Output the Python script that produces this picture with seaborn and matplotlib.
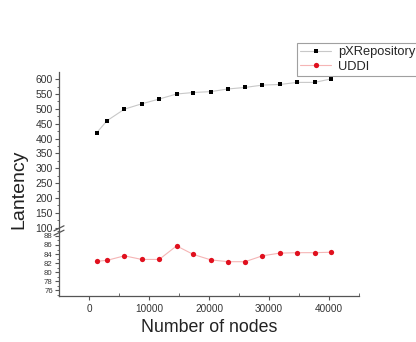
import matplotlib
matplotlib.use("Agg")
import matplotlib.pyplot as plt
import seaborn as sns
import numpy as np
from matplotlib.ticker import MultipleLocator

sns.set_style("white")
plt.rcParams['font.family'] = ['Arial', 'Liberation Sans', 'DejaVu Sans']

nodes = [1300, 3000, 5900, 8800, 11700, 14600, 17400, 20300, 23200, 26000,
         28900, 31800, 34700, 37600, 40400]
px_repository = [420, 460, 499, 517, 533, 550, 555, 558, 567, 572, 580, 582, 589, 589, 601]
uddi = [82.4, 82.6, 83.6, 82.8, 82.8, 85.8, 83.9, 82.7, 82.3, 82.3, 83.6, 84.2, 84.3, 84.3, 84.4]
x_ticks = [0, 10000, 20000, 30000, 40000]
upper_ticks = list(range(100, 601, 50))
lower_ticks = [76, 78, 80, 82, 84, 86, 88]

W, H = 416, 342
fig = plt.figure(figsize=(W / 100, H / 100), dpi=100)
left = 59 / W
width = 300 / W
ax_up = fig.add_axes([left, 1 - 231 / H, width, (231 - 72) / H])
ax_lo = fig.add_axes([left, 1 - 296 / H, width, (296 - 231) / H], sharex=ax_up)

sns.lineplot(x=nodes, y=px_repository, ax=ax_up, color='#c8c8c8', lw=0.8,
             marker='s', markerfacecolor='black', markeredgecolor='black',
             markeredgewidth=0, label='pXRepository', legend=False)
sns.lineplot(x=nodes, y=uddi, ax=ax_lo, color='#f5b5b5', lw=0.8,
             marker='o', markerfacecolor='#e0101e', markeredgecolor='#e0101e',
             markeredgewidth=0, label='UDDI', legend=False)
for ln in ax_up.get_lines():
    ln.set_markersize(3.4)
for ln in ax_lo.get_lines():
    ln.set_markersize(3.8)

for ax in (ax_up, ax_lo):
    ax.set_facecolor('white')
    for s in ('top', 'right'):
        ax.spines[s].set_visible(False)
    for s in ('left', 'bottom'):
        ax.spines[s].set_color('#555555')
        ax.spines[s].set_linewidth(0.9)

ax_up.set_xlim(-5000, 45000)
ax_up.set_ylim(89, 624)
ax_lo.set_ylim(74.7, 89.1)
ax_up.spines['bottom'].set_visible(False)
ax_up.tick_params(axis='x', which='both', bottom=False, labelbottom=False)

ax_up.set_yticks(upper_ticks)
ax_up.yaxis.set_minor_locator(MultipleLocator(25))
ax_lo.set_yticks(lower_ticks)
ax_lo.yaxis.set_minor_locator(MultipleLocator(1))
ax_lo.set_xticks(x_ticks)
ax_lo.xaxis.set_minor_locator(MultipleLocator(5000))

for ax in (ax_up, ax_lo):
    ax.tick_params(axis='y', which='major', direction='out', length=3, width=0.8,
                   colors='#555555', labelcolor='#333333', labelsize=7.5, pad=1.5, left=True)
    ax.tick_params(axis='y', which='minor', direction='out', length=1.8, width=0.6,
                   colors='#555555', left=True)
ax_lo.tick_params(axis='y', which='major', labelsize=5.6, pad=1.5)
ax_lo.tick_params(axis='x', which='major', direction='out', length=3, width=0.8,
                  colors='#555555', labelcolor='#333333', labelsize=7.2, pad=3, bottom=True)
ax_lo.tick_params(axis='x', which='minor', direction='in', length=2, width=0.6,
                  colors='#555555', bottom=True)

# break marks
kw = dict(transform=fig.transFigure, color='#555555', lw=0.9, clip_on=False)
yb = 1 - 230.5 / H
for off in (-2.2 / H, 2.2 / H):
    fig.add_artist(plt.Line2D([left - 5 / W, left + 5 / W],
                              [yb + off - 2.5 / H, yb + off + 2.5 / H], **kw))

fig.text(19 / W, 1 - 189 / H, 'Lantency', rotation=90, ha='center', va='center',
         fontsize=14, color='#222222')
fig.text(209 / W, 1 - 327 / H, 'Number of nodes', ha='center', va='center',
         fontsize=12.8, color='#222222')

h1, l1 = ax_up.get_legend_handles_labels()
h2, l2 = ax_lo.get_legend_handles_labels()
leg = fig.legend(h1 + h2, l1 + l2, loc='upper left',
                 bbox_to_anchor=(297 / W, 1 - 43 / H), fontsize=9.3,
                 frameon=True, fancybox=False, edgecolor='#888888',
                 borderpad=0.25, labelspacing=0.2, handlelength=2.4,
                 handletextpad=0.5, borderaxespad=0)
leg.get_frame().set_linewidth(0.8)

fig.savefig('out.png', dpi=100)
